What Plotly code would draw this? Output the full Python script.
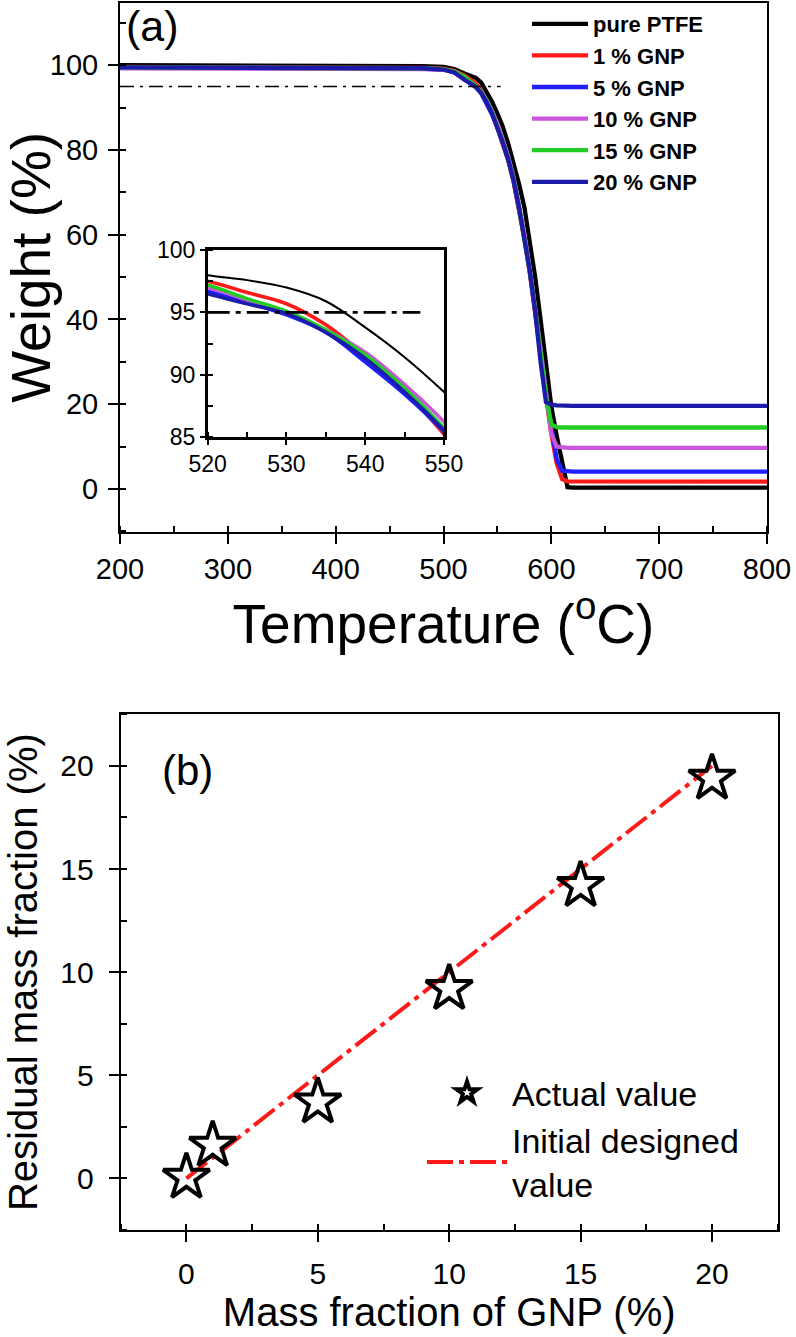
import plotly.graph_objects as go

W, H = 796, 1337

# ---------------- data: panel (a) TGA curves ----------------
temperature = [200, 300, 400, 450, 480, 500, 510, 520, 525, 530, 535, 540, 545, 550,
               555, 560, 565, 570, 575, 580, 585, 590, 595, 600, 605, 610, 615, 620, 700, 800]
w_ptfe = [100.0, 100.0, 99.9, 99.9, 99.8, 99.6, 99.1, 98.0, 97.6, 97.0, 95.9, 93.8, 91.4, 88.6,
          85.5, 81.5, 77.0, 72.0, 66.5, 59.0, 50.0, 40.0, 29.5, 19.5, 12.5, 6.5, 0.4, 0.3, 0.3, 0.3]
w_gnp1 = [99.6, 99.6, 99.5, 99.5, 99.4, 99.2, 98.7, 97.5, 96.6, 95.7, 94.0, 91.5, 88.7, 85.2,
          81.5, 77.5, 72.5, 66.0, 59.0, 51.0, 42.0, 32.0, 22.0, 13.0, 6.0, 2.3, 1.8, 1.8, 1.7, 1.7]
w_gnp5 = [99.4, 99.4, 99.3, 99.3, 99.2, 99.0, 98.3, 96.7, 95.8, 94.8, 93.4, 91.0, 88.4, 85.4,
          81.8, 77.8, 72.8, 66.5, 59.5, 51.5, 42.5, 32.5, 22.5, 14.0, 7.0, 4.3, 4.2, 4.1, 4.1, 4.1]
w_gnp10 = [99.3, 99.3, 99.2, 99.2, 99.1, 98.9, 98.4, 97.0, 96.0, 95.0, 93.6, 91.8, 89.2, 86.2,
           82.5, 78.5, 73.5, 67.0, 60.0, 52.0, 43.0, 33.0, 23.0, 13.0, 10.0, 9.8, 9.7, 9.7, 9.7, 9.7]
w_gnp15 = [99.5, 99.5, 99.4, 99.4, 99.3, 99.1, 98.5, 97.2, 96.1, 95.1, 93.6, 91.6, 88.9, 85.7,
           82.0, 78.0, 73.0, 66.5, 59.5, 51.5, 42.5, 32.5, 22.0, 15.2, 14.6, 14.5, 14.5, 14.5, 14.5, 14.5]
w_gnp20 = [99.5, 99.5, 99.4, 99.4, 99.3, 99.0, 98.3, 96.5, 95.7, 94.9, 93.4, 91.3, 88.6, 85.5,
           81.8, 77.8, 72.8, 66.5, 59.5, 51.5, 42.0, 30.0, 20.5, 19.9, 19.7, 19.6, 19.6, 19.6, 19.6, 19.6]

series_names = ["pure PTFE", "1 % GNP", "5 % GNP", "10 % GNP", "15 % GNP", "20 % GNP"]
series_values = [w_ptfe, w_gnp1, w_gnp5, w_gnp10, w_gnp15, w_gnp20]
series_colors = ["#000000", "#ff1a1a", "#1f1fff", "#cc55dd", "#22cc22", "#1c1ca8"]

ref_level_x = [200, 553]
ref_level_y = [95, 95]
inset_ref_x = [520, 547]

x_ticks_a = [200, 300, 400, 500, 600, 700, 800]
y_ticks_a = [0, 20, 40, 60, 80, 100]
x_ticks_inset = [520, 530, 540, 550]
y_ticks_inset = [85, 90, 95, 100]

# ---------------- data: panel (b) ----------------
gnp_fraction = [0, 1, 5, 10, 15, 20]
residual_actual = [0.05, 1.6, 3.7, 9.2, 14.2, 19.4]
designed_x = [0, 20]
designed_y = [0, 20]
ticks_b = [0, 5, 10, 15, 20]

FONT = "Arial, Liberation Sans, sans-serif"


def dx(p0, p1):
    return [p0 / W, p1 / W]


def dy(top, bottom):
    return [1 - bottom / H, 1 - top / H]


fig = go.Figure()

# main TGA curves
for name, vals, col in zip(series_names, series_values, series_colors):
    fig.add_trace(go.Scatter(x=temperature, y=vals, mode="lines", name=name,
                             legend="legend",
                             line=dict(color=col, width=4.3),
                             xaxis="x", yaxis="y"))
fig.add_trace(go.Scatter(x=ref_level_x, y=ref_level_y, mode="lines", showlegend=False,
                         line=dict(color="black", width=1.6, dash="14px,6px,3px,6px"),
                         xaxis="x", yaxis="y"))

# inset curves
for name, vals, col in zip(series_names, series_values, series_colors):
    fig.add_trace(go.Scatter(x=temperature, y=vals, mode="lines", showlegend=False,
                             line=dict(color=col, width=2 if col == "#000000" else 3.6,
                                       shape="spline"),
                             xaxis="x2", yaxis="y2"))
fig.add_trace(go.Scatter(x=inset_ref_x, y=ref_level_y, mode="lines", showlegend=False,
                         line=dict(color="black", width=2.8, dash="22px,6px,5px,6px"),
                         xaxis="x2", yaxis="y2"))

# panel (b)
fig.add_trace(go.Scatter(x=designed_x, y=designed_y, mode="lines",
                         name="Initial designed<br>value", legend="legend2",
                         line=dict(color="#ff1a1a", width=4, dash="26px,6px,5px,6px"),
                         xaxis="x3", yaxis="y3"))
fig.add_trace(go.Scatter(x=gnp_fraction, y=residual_actual, mode="markers",
                         name="Actual value", legend="legend2",
                         marker=dict(symbol="star-open", size=35, color="black",
                                     line=dict(color="black", width=4)),
                         xaxis="x3", yaxis="y3"))

axis_common = dict(showline=True, linecolor="black", linewidth=2, mirror=True,
                   showgrid=False, zeroline=False, ticks="outside", ticklen=10,
                   tickwidth=2, tickcolor="black")
minor_common = dict(ticks="inside", ticklen=6, tickwidth=2, tickcolor="black")
inset_common = {**axis_common, "linewidth": 2.6, "ticklen": 5}

fig.update_layout(
    width=W, height=H, margin=dict(l=0, r=0, t=0, b=0),
    paper_bgcolor="white", plot_bgcolor="white",
    font=dict(family=FONT, color="black"),
    xaxis=dict(domain=dx(120, 767), anchor="y", range=[200, 800], tickvals=x_ticks_a,
               tickfont=dict(size=29), automargin=False, ticklabelstandoff=0,
               minor=dict(dtick=50, **minor_common),
               title=dict(text="Temperature (<sup>o</sup>C)", font=dict(size=55), standoff=16),
               **axis_common),
    yaxis=dict(domain=dy(3, 531.7), anchor="x", range=[-10.1, 114.7], tickvals=y_ticks_a,
               tickfont=dict(size=29), automargin=False, ticklabelstandoff=4,
               minor=dict(dtick=10, **minor_common),
               title=dict(text="Weight (%)", font=dict(size=55), standoff=3),
               **axis_common),
    xaxis2=dict(domain=dx(207.7, 444), anchor="y2", range=[520, 550], tickvals=x_ticks_inset,
                tickfont=dict(size=23), automargin=False,
                minor=dict(dtick=5, ticks="inside", ticklen=5, tickwidth=2, tickcolor="black"),
                **inset_common),
    yaxis2=dict(domain=dy(250.3, 436.7), anchor="x2", range=[85, 100], tickvals=y_ticks_inset,
                tickfont=dict(size=23), automargin=False,
                minor=dict(dtick=2.5, ticks="inside", ticklen=5, tickwidth=2, tickcolor="black"),
                **inset_common),
    xaxis3=dict(domain=dx(120.7, 777.7), anchor="y3", range=[-2.5, 22.5], tickvals=ticks_b,
                tickfont=dict(size=30), automargin=False, ticklabelstandoff=6,
                minor=dict(dtick=2.5, **minor_common),
                title=dict(text="Mass fraction of GNP (%)", font=dict(size=40), standoff=8),
                **axis_common),
    yaxis3=dict(domain=dy(714.3, 1230), anchor="x3", range=[-2.5, 22.5], tickvals=ticks_b,
                tickfont=dict(size=30), automargin=False, ticklabelstandoff=9,
                minor=dict(dtick=2.5, **minor_common),
                title=dict(text="Residual mass fraction (%)", font=dict(size=40), standoff=10),
                **axis_common),
    legend=dict(x=527 / W, y=1 - 3 / H, xanchor="left", yanchor="top",
                bgcolor="rgba(0,0,0,0)",
                font=dict(size=22, family=FONT, weight="bold"),
                itemwidth=56),
    legend2=dict(x=422 / W, y=1 - 1064 / H, xanchor="left", yanchor="top",
                 bgcolor="rgba(0,0,0,0)", font=dict(size=34), traceorder="reversed",
                 itemwidth=80),
    annotations=[
        dict(text="(a)", x=124 / W, y=1.0, xref="paper", yref="paper",
             xanchor="left", yanchor="top", showarrow=False, font=dict(size=43)),
        dict(text="(b)", x=160 / W, y=1 - 770 / H, xref="paper", yref="paper",
             xanchor="left", yanchor="middle", showarrow=False, font=dict(size=42)),
    ],
)

# the page's default body margin would shift the figure by 8 px; remove it
fig.write_html("out.html", config={"displayModeBar": False},
               post_script="document.body.style.margin='0px';")
